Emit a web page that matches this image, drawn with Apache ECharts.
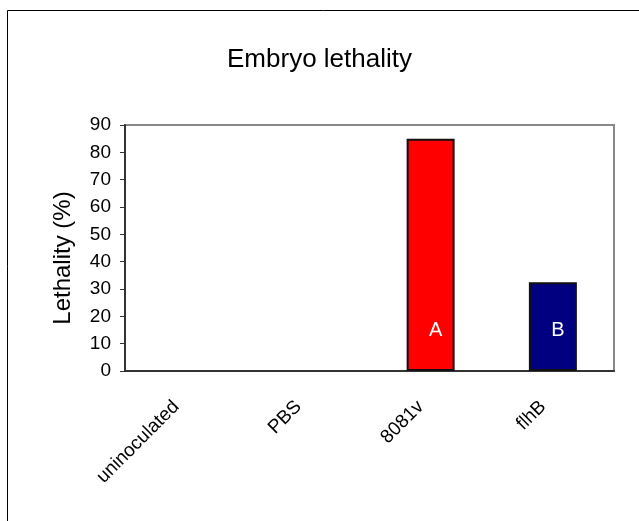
<!DOCTYPE html>
<html>
<head>
<meta charset="utf-8">
<script src="https://cdn.jsdelivr.net/npm/echarts@6/dist/echarts.min.js"></script>
<style>
  html, body { margin: 0; padding: 0; background: #fff; }
  #chart { width: 639px; height: 521px; }
</style>
</head>
<body>
<div id="chart"></div>
<script>
// 数据
var categories = ['uninoculated', 'PBS', '8081v', 'flhB'];
var lethality = [0, 0, 85, 32.5];
var barColors = ['#ff0000', '#ff0000', '#ff0000', '#000080'];
var barLetters = ['', '', 'A', 'B'];

var myCharts = echarts.init(document.getElementById('chart'));

// 零值的柱子不画边框
var seriesData = lethality.map(function (v, i) {
  return {
    value: v,
    itemStyle: { color: barColors[i], borderWidth: v > 0 ? 2 : 0 },
    label: { formatter: barLetters[i] }
  };
});

myCharts.setOption({
  animation: false,
  textStyle: { fontFamily: 'Liberation Sans, Arial, sans-serif' },
  title: {
    text: 'Embryo lethality',
    left: 'center',
    top: 42,
    textStyle: { fontSize: 26, fontWeight: 'normal', color: '#000' }
  },
  graphic: [{
    type: 'rect',
    shape: { x: 7.5, y: 10.5, width: 700, height: 600 },
    style: { fill: 'none', stroke: '#000', lineWidth: 1 }
  }],
  grid: {
    left: 125,
    right: 25,
    top: 125,
    bottom: 150,
    show: true,
    borderColor: '#888',
    borderWidth: 2
  },
  xAxis: {
    type: 'category',
    data: categories,
    axisLine: { lineStyle: { color: '#333', width: 2 } },
    axisTick: { show: false },
    axisLabel: {
      rotate: 45,
      color: '#000',
      fontSize: 19,
      margin: 23,
      padding: [0, 14, 0, 0]
    }
  },
  yAxis: {
    type: 'value',
    min: 0,
    max: 90,
    interval: 10,
    name: 'Lethality (%)',
    nameLocation: 'middle',
    nameGap: 50,
    nameTextStyle: { fontSize: 24, color: '#000', padding: [0, 20, 0, 0] },
    axisLine: { show: true, lineStyle: { color: '#333', width: 2 } },
    axisTick: { show: true, length: 5, lineStyle: { color: '#333' } },
    splitLine: { show: false },
    axisLabel: { color: '#000', fontSize: 19, margin: 14 }
  },
  series: [{
    type: 'bar',
    data: seriesData,
    barWidth: 48,
    itemStyle: { borderColor: '#111' },
    label: {
      show: true,
      position: 'insideBottom',
      distance: 31,
      offset: [5, 0],
      color: '#fff',
      fontSize: 20
    }
  }]
});
</script>
</body>
</html>
